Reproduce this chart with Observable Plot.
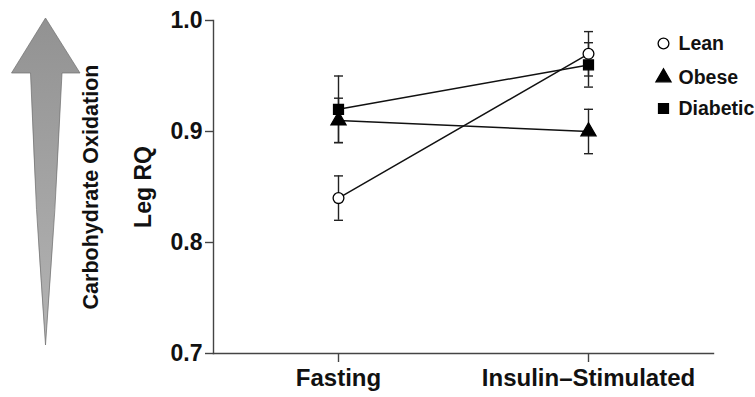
<!DOCTYPE html>
<html>
<head>
<meta charset="utf-8">
<script src="https://cdn.jsdelivr.net/npm/d3@7"></script>
<script src="https://cdn.jsdelivr.net/npm/@observablehq/plot@0.6"></script>
<style>
  html, body { margin: 0; padding: 0; background: #fff; }
  #chart { position: relative; width: 755px; height: 397px; }
  svg { font-family: "Liberation Sans", Arial, Helvetica, sans-serif; }
</style>
</head>
<body>
<div id="chart"></div>
<script>
// ---- data ----
const conditions = ["Fasting", "Insulin\u2013Stimulated"];
const groups = ["Lean", "Obese", "Diabetic"];
const leanMean = [0.84, 0.97];
const leanErr = [0.02, 0.02];
const obeseMean = [0.91, 0.90];
const obeseErr = [0.02, 0.02];
const diabeticMean = [0.92, 0.96];
const diabeticErr = [0.03, 0.02];
const yTicks = [0.7, 0.8, 0.9, 1.0];
const yLabel = "Leg RQ";
const sideLabel = "Carbohydrate Oxidation";

const means = {Lean: leanMean, Obese: obeseMean, Diabetic: diabeticMean};
const errs = {Lean: leanErr, Obese: obeseErr, Diabetic: diabeticErr};
const symbols = {Lean: "circle", Obese: "triangle", Diabetic: "square"};
const sizes = {Lean: 5.4, Obese: 5.6, Diabetic: 5.6};
const fills = {Lean: "white", Obese: "black", Diabetic: "black"};

const rows = [];
for (const g of groups) {
  conditions.forEach((c, i) => {
    rows.push({group: g, cond: c, mean: means[g][i], lo: means[g][i] - errs[g][i], hi: means[g][i] + errs[g][i]});
  });
}
const font = `"Liberation Sans", Arial, Helvetica, sans-serif`;

// horizontal cap symbol for error bars
const capSymbol = {
  draw(context, size) {
    const w = Math.sqrt(size / Math.PI);
    context.moveTo(-w, 0);
    context.lineTo(w, 0);
  }
};

const marks = [
  Plot.frame({anchor: "left", stroke: "#444", strokeWidth: 1.4}),
  Plot.frame({anchor: "bottom", stroke: "#444", strokeWidth: 1.4}),
  Plot.axisY({ticks: yTicks, tickFormat: d3.format(".1f"), tickSize: 8, tickPadding: 3, fontSize: 23, fontWeight: "bold", fill: "#111", stroke: "#444", strokeWidth: 1.4, label: null}),
  Plot.axisX({tickSize: 9, tickPadding: 6, fontSize: 24, fontWeight: "bold", fill: "#111", stroke: "#444", strokeWidth: 1.4, label: null}),
  Plot.text([yLabel], {frameAnchor: "left", dx: -70, rotate: -90, textAnchor: "middle", lineAnchor: "middle", fontSize: 23, fontWeight: "bold", fill: "#111", text: d => d}),
  Plot.text([sideLabel], {frameAnchor: "left", dx: -122, rotate: -90, textAnchor: "middle", lineAnchor: "middle", fontSize: 21.5, fontWeight: "bold", fill: "#111", text: d => d}),
  Plot.ruleX(rows, {x: "cond", y1: "lo", y2: "hi", stroke: "#222", strokeWidth: 1.4}),
  Plot.dot(rows, {x: "cond", y: "lo", symbol: capSymbol, r: 4.5, fill: "none", stroke: "#222", strokeWidth: 1.4}),
  Plot.dot(rows, {x: "cond", y: "hi", symbol: capSymbol, r: 4.5, fill: "none", stroke: "#222", strokeWidth: 1.4}),
  Plot.line(rows, {x: "cond", y: "mean", z: "group", stroke: "#111", strokeWidth: 1.5})
];
for (const g of ["Diabetic", "Obese", "Lean"]) {
  marks.push(Plot.dot(rows.filter(d => d.group === g), {x: "cond", y: "mean", symbol: symbols[g], r: sizes[g], fill: fills[g], stroke: "black", strokeWidth: 1.3}));
}
// legend
const legendY = [43, 77, 108];
groups.forEach((g, i) => {
  const dy = legendY[i] - 20;
  marks.push(Plot.dot([g], {frameAnchor: "top-left", dx: 663 - 213, dy, symbol: symbols[g], r: sizes[g], fill: fills[g], stroke: "black", strokeWidth: 1.3}));
  marks.push(Plot.text([g], {frameAnchor: "top-left", dx: 678 - 213, dy, text: d => d, textAnchor: "start", lineAnchor: "middle", fontSize: 19.5, fontWeight: "bold", fill: "#111"}));
});

const plot = Plot.plot({
  width: 755,
  height: 397,
  marginLeft: 213,
  marginRight: 42,
  marginTop: 20,
  marginBottom: 44,
  style: {fontFamily: font, background: "white", overflow: "visible"},
  x: {type: "point", domain: conditions, padding: 0.5},
  y: {domain: [0.7, 1.0]},
  marks
});
document.getElementById("chart").appendChild(plot);

// decorative gradient arrow (not data)
const svg = d3.select(plot);
const defs = svg.insert("defs", ":first-child");
const grad = defs.append("linearGradient").attr("id", "arrowGrad").attr("x1", 0).attr("y1", 0).attr("x2", 0).attr("y2", 1);
grad.append("stop").attr("offset", "0%").attr("stop-color", "#929292");
grad.append("stop").attr("offset", "100%").attr("stop-color", "#b4b4b4");
svg.append("path")
  .attr("d", "M45.5,18 L80,73 L62,73 Q56,210 45.5,345 Q35,210 30.5,73 L11.5,73 Z")
  .attr("fill", "url(#arrowGrad)")
  .attr("stroke", "#6e6e6e")
  .attr("stroke-width", 0.7);
</script>
</body>
</html>
